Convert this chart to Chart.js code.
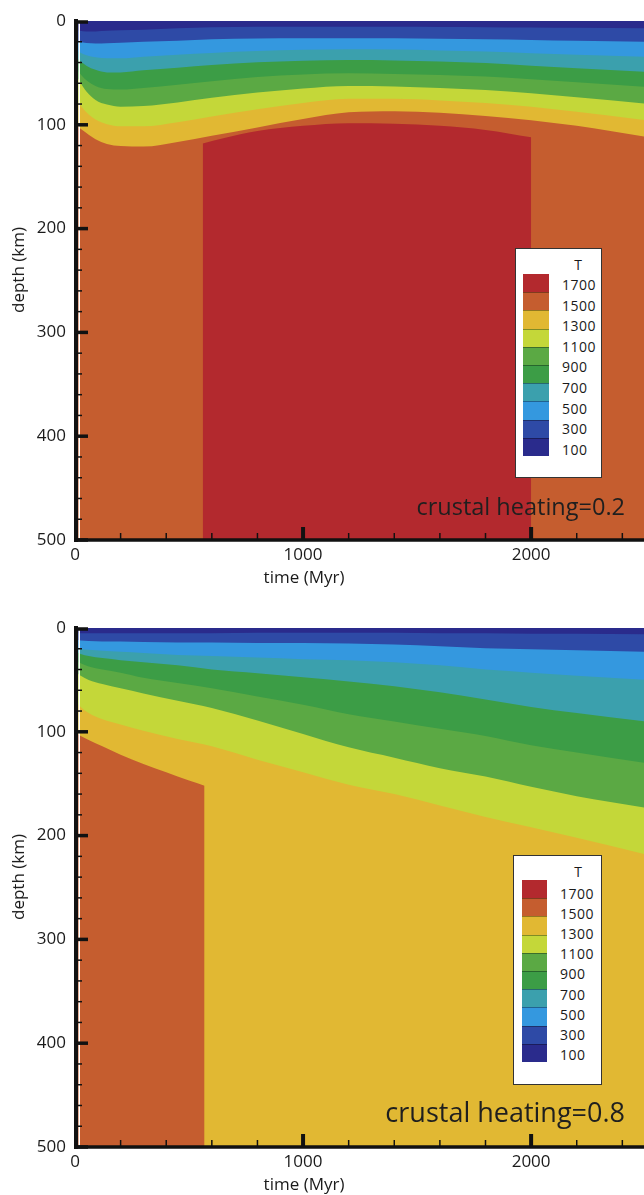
<!DOCTYPE html>
<html>
<head>
<meta charset="utf-8">
<script src="https://cdn.jsdelivr.net/npm/chart.js@4.4.1/dist/chart.umd.min.js"></script>
<style>
  html, body { margin: 0; padding: 0; background: #fff; overflow: hidden; }
  body { width: 644px; height: 1195px; position: relative; font-family: "Open Sans", sans-serif; color: #1a1a1a; }
  canvas { position: absolute; left: 0; }
  #c1 { top: 0; }
  #c2 { top: 597px; }
  .ttl { position: absolute; font-size: 17px; line-height: 20px; white-space: nowrap; }
  .ylab { transform: translate(-50%, -50%) rotate(-90deg); }
  .xlab { transform: translate(-50%, -50%); }
  .note { position: absolute; white-space: nowrap; line-height: 1; color: #1f1f1f; }
  .legend { position: absolute; background: #fff; border: 1px solid #333; box-sizing: border-box; }
  .legend .t { position: absolute; font-size: 14px; line-height: 15px; transform: translate(-50%, -50%); }
  .legend .sw { position: absolute; box-sizing: border-box; border-top: 1px solid rgba(0,0,0,0.35); }
  .legend .lv { position: absolute; font-size: 14px; line-height: 15px; letter-spacing: 0.5px; transform: translateY(-50%); }
</style>
</head>
<body>
<canvas id="c1" width="644" height="597"></canvas>
<canvas id="c2" width="644" height="598"></canvas>

<div class="ttl ylab" style="left:18px; top:270px;">depth (km)</div>
<div class="ttl xlab" style="left:304px; top:577px;">time (Myr)</div>
<div class="ttl ylab" style="left:18px; top:877px;">depth (km)</div>
<div class="ttl xlab" style="left:304px; top:1184px;">time (Myr)</div>

<div class="note" id="note1" style="right:19px; top:495px; font-size:23.5px;">crustal heating=0.2</div>
<div class="note" id="note2" style="right:19px; top:1098px; font-size:27px;">crustal heating=0.8</div>

<div class="legend" id="leg1" style="left:515px; top:248px; width:87px; height:230px;"></div>
<div class="legend" id="leg2" style="left:513px; top:855px; width:89px; height:230px;"></div>

<script>
// 등온선 온도 (범례 라벨)
const levels = [1700, 1500, 1300, 1100, 900, 700, 500, 300, 100];
// 구간 색: <100, 100-300, ..., 1500-1700, >1700
const bandColors = ['#2a2b8c', '#2e4aa6', '#3498df', '#3ba0ad', '#3c9d46', '#5ba944', '#c4d739', '#e1b833', '#c55d2f', '#b3292e'];

const xTicks = [0, 1000, 2000];
const yTicks = [0, 100, 200, 300, 400, 500];

// crustal heating = 0.2 : 시간 (Myr) 과 등온선 깊이 (km)
const timesTop = [0, 20, 50, 90, 140, 200, 300, 450, 600, 800, 1000, 1200, 1400, 1600, 1800, 2000, 2200, 2500];
const top100  = [8.5, 9.5, 10, 10, 9.5, 9, 8.5, 7, 6, 5.6, 5.5, 5.5, 5.6, 5.8, 6, 6.3, 6.6, 7];
const top300  = [18, 20, 21.3, 21.7, 21.5, 21, 20, 19, 17.7, 16.8, 16.5, 16.5, 16.6, 17, 17.5, 18.2, 19, 20];
const top500  = [27, 30, 33, 35, 36, 36, 34.5, 32.5, 30.8, 29, 27.8, 27.3, 27.5, 28.3, 29.5, 31, 32.5, 34.5];
const top700  = [34, 38, 43, 47, 49.5, 49.5, 47.5, 45, 42.3, 39.8, 38.2, 37.6, 38, 39, 40.5, 43, 45.5, 49];
const top900  = [44, 50, 57, 62.5, 65.5, 66, 64.5, 61.5, 58, 54, 51.5, 50.4, 51, 52, 53.5, 56, 59, 63.5];
const top1100 = [50, 58, 68, 76, 80.5, 82.5, 82, 78.5, 74, 69, 65, 62.6, 63, 64.5, 66.5, 69.5, 73.5, 79.5];
const top1300 = [74, 80, 88, 95, 99.5, 101.5, 101.5, 97.5, 92, 85, 79, 75, 75, 76.5, 79, 82.5, 87.5, 95.5];
const top1500 = [100, 103, 108, 114, 118.5, 120.5, 121, 116.5, 110.5, 102.5, 94.5, 88, 87, 88.5, 91.5, 95.5, 101, 111.5];
// T > 1700 영역 윗면
const redTimes = [560, 650, 800, 1000, 1200, 1400, 1600, 1800, 2000];
const redDepth = [118, 113, 106, 101, 98.5, 99, 101, 105, 112];

// crustal heating = 0.8 : 시간 (Myr) 과 등온선 깊이 (km)
const timesBot = [0, 25, 60, 120, 200, 300, 450, 600, 800, 1000, 1200, 1400, 1600, 1800, 2000, 2200, 2500];
const bot100  = [5, 5, 5, 5, 5, 5, 5, 5, 4.5, 4.5, 4.5, 4.5, 5, 5, 5.5, 5.5, 6];
const bot300  = [11, 12, 12.5, 13, 13, 13.5, 14, 14, 14.5, 14.5, 15, 16, 17.5, 19.5, 20.5, 21.5, 23];
const bot500  = [18, 20, 21, 22, 23, 24, 26, 27, 28.5, 30, 31, 33, 36, 40, 43, 46, 50];
const bot700  = [23, 25, 27, 29, 31, 33, 36, 40, 43.5, 47.5, 51.5, 56, 62, 69, 76, 82, 90];
const bot900  = [31, 34, 37, 40, 43, 48, 53, 58, 66, 74, 83, 90, 97, 104, 113, 120, 130];
const bot1100 = [42, 46, 50, 54, 58, 63, 70, 77, 89, 102, 115, 125, 135, 143, 153, 162, 173];
const bot1300 = [70, 76, 82, 88, 93, 99, 107, 114, 127, 139, 151, 160, 171, 182, 192, 202, 218];
// T > 1500 영역 윗면
const orangeTimes = [0, 25, 60, 120, 200, 300, 400, 500, 568];
const orangeDepth = [101, 104, 108, 114, 122, 131, 139, 147, 152];

const fontFamily = '"Open Sans", sans-serif';

// 배경색과 축/눈금을 그리는 플러그인
const frame = {
    id: 'frame',
    beforeDatasetsDraw(chart) {
        const { ctx, chartArea: a } = chart;
        ctx.save();
        ctx.fillStyle = bandColors[0];
        ctx.fillRect(a.left, a.top, a.right - a.left, a.bottom - a.top);
        ctx.restore();
    },
    afterDatasetsDraw(chart) {
        const { ctx, chartArea: a, scales: { x, y } } = chart;
        const line = (x1, y1, x2, y2) => { ctx.beginPath(); ctx.moveTo(x1, y1); ctx.lineTo(x2, y2); ctx.stroke(); };
        ctx.save();
        ctx.fillStyle = '#fff';
        ctx.fillRect(a.left + 3.5, a.top, 1.5, a.bottom - a.top);
        ctx.strokeStyle = '#111';
        ctx.lineCap = 'butt';
        ctx.lineWidth = 4;
        line(a.left + 1, a.top - 2, a.left + 1, a.bottom + 2);
        ctx.lineWidth = 3.5;
        line(a.left - 1, a.bottom, a.right, a.bottom);
        for (let d = 0; d <= 500; d += 20) {
            const py = y.getPixelForValue(d) + (d === 0 ? 1 : 0);
            const major = d % 100 === 0;
            ctx.lineWidth = major ? 3.5 : 1.5;
            line(a.left - 1, py, a.left + (major ? 13 : 7), py);
        }
        for (let t = 200; t <= x.max; t += 200) {
            const px = x.getPixelForValue(t);
            const major = t % 1000 === 0;
            ctx.lineWidth = major ? 4 : 1.5;
            line(px, a.bottom, px, a.bottom - (major ? 13 : 7));
        }
        ctx.restore();
    }
};

function makeChart(canvasId, times, isotherms, hotTimes, hotDepth, hotColor, padTop, xAxisHeight) {
    const datasets = isotherms.map((depths, i) => ({
        data: times.map((t, k) => ({ x: t, y: depths[k] })),
        backgroundColor: bandColors[i + 1],
        fill: { value: 500 },
        order: 20 - i
    }));
    datasets.push({
        data: hotTimes.map((t, k) => ({ x: t, y: hotDepth[k] })),
        backgroundColor: hotColor,
        fill: { value: 500 },
        order: 0
    });

    const tickFont = { family: fontFamily, size: 17 };
    return new Chart(document.getElementById(canvasId), {
        type: 'line',
        data: { datasets },
        options: {
            responsive: false,
            animation: false,
            events: [],
            layout: { padding: { top: padTop, left: 0, right: 0, bottom: 0 } },
            elements: {
                line: { borderWidth: 0, cubicInterpolationMode: 'monotone' },
                point: { radius: 0 }
            },
            plugins: { legend: { display: false }, tooltip: { enabled: false } },
            scales: {
                x: {
                    type: 'linear', min: 0, max: 2495,
                    grid: { display: false, drawTicks: false },
                    border: { display: false },
                    afterBuildTicks: s => { s.ticks = xTicks.map(v => ({ value: v })); },
                    afterFit: s => { s.height = xAxisHeight; },
                    ticks: { font: tickFont, color: '#1a1a1a', padding: 5, maxRotation: 0, autoSkip: false,
                             callback: v => String(v) }
                },
                y: {
                    type: 'linear', reverse: true, min: 0, max: 500,
                    grid: { display: false, drawTicks: false },
                    border: { display: false },
                    afterBuildTicks: s => { s.ticks = yTicks.map(v => ({ value: v })); },
                    afterFit: s => { s.width = 75; },
                    ticks: { font: tickFont, color: '#1a1a1a', padding: 9, autoSkip: false,
                             callback: v => String(v) }
                }
            }
        },
        plugins: [frame]
    });
}

// 범례 상자 (HTML)
function buildLegend(id, swLeft, swTop, swW, swH, labLeft, labTop, labStep, tX) {
    const box = document.getElementById(id);
    const t = document.createElement('div');
    t.className = 't'; t.textContent = 'T';
    t.style.left = tX + 'px'; t.style.top = '15px';
    box.appendChild(t);
    const swatchColors = bandColors.slice().reverse();
    swatchColors.forEach((c, i) => {
        const s = document.createElement('div');
        s.className = 'sw';
        s.style.left = swLeft + 'px';
        s.style.top = (swTop + i * swH) + 'px';
        s.style.width = swW + 'px';
        s.style.height = (swH + 0.5) + 'px';
        s.style.background = c;
        if (i === 0) s.style.borderTop = 'none';
        box.appendChild(s);
    });
    levels.forEach((lv, i) => {
        const l = document.createElement('div');
        l.className = 'lv'; l.textContent = lv;
        l.style.left = labLeft + 'px';
        l.style.top = (labTop + i * labStep) + 'px';
        box.appendChild(l);
    });
}

makeChart('c1', timesTop, [top100, top300, top500, top700, top900, top1100, top1300, top1500], redTimes, redDepth, bandColors[9], 21, 57);
makeChart('c2', timesBot, [bot100, bot300, bot500, bot700, bot900, bot1100, bot1300], orangeTimes, orangeDepth, bandColors[8], 31, 48);

buildLegend('leg1', 7, 25, 26, 18.2, 46, 35, 20.6, 62);
buildLegend('leg2', 8, 24, 25, 18.2, 46, 37, 20.1, 64);
</script>
</body>
</html>
